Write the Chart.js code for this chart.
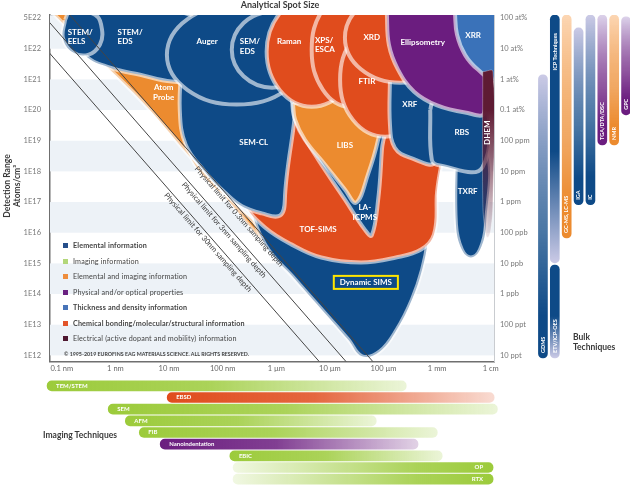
<!DOCTYPE html>
<html>
<head>
<meta charset="utf-8">
<script src="https://cdn.jsdelivr.net/npm/chart.js@4.4.0/dist/chart.umd.min.js"></script>
<style>
  body { margin: 0; width: 630px; height: 485px; overflow: hidden; position: relative; background: #fff; font-family: Lato, "Open Sans", sans-serif; }
  canvas { position: absolute; }
  .t { position: absolute; white-space: nowrap; color: #3a3a3a; }
  .leg { position: absolute; font-size: 7.2px; letter-spacing: 0.15px; color: #444; white-space: nowrap; line-height: 8px; }
  .leg i { display: inline-block; width: 5px; height: 5px; margin-right: 5px; vertical-align: 0px; }
</style>
</head>
<body>
<canvas id="main" width="545" height="375" style="left:0;top:0;width:545px;height:375px"></canvas>
<canvas id="bulk" width="95" height="362" style="left:537px;top:0;width:95px;height:362px"></canvas>
<canvas id="imaging" width="453" height="105" style="left:46px;top:380px;width:453px;height:105px"></canvas>

<div class="t" style="left:180px;top:-1px;width:200px;text-align:center;font-weight:bold;font-size:9px">Analytical Spot Size</div>
<div class="t" style="left:-38px;top:176px;width:100px;height:20px;line-height:10px;text-align:center;font-weight:bold;font-size:8.5px;transform:rotate(-90deg)">Detection Range<br>Atoms/cm³</div>
<div class="t" style="left:573px;top:332px;font-weight:bold;font-size:8.5px;line-height:10px">Bulk<br>Techniques</div>
<div class="t" style="left:43px;top:430px;font-weight:bold;font-size:8.5px">Imaging Techniques</div>
<div id="legend"></div>

<script>
// ejes: x = log10(tamaño de spot en nm), y = log10(átomos/cm3)
var spotTickValues = [-1, 0, 1, 2, 3, 4, 5, 6, 7];
var spotTicks = ["0.1 nm", "1 nm", "10 nm", "100 nm", "1 µm", "10 µm", "100 µm", "1 mm", "1 cm"];
var rangeTickValues = [12, 13, 14, 15, 16, 17, 18, 19, 20, 21, 22, 23];
var rangeTicksLeft = ["1E12", "1E13", "1E14", "1E15", "1E16", "1E17", "1E18", "1E19", "1E20", "1E21", "1E22", "5E22"];
var rangeTicksRight = ["10 ppt", "100 ppt", "1 ppb", "10 ppb", "100 ppb", "1 ppm", "10 ppm", "100 ppm", "0.1 at%", "1 at%", "10 at%", "100 at%"];
var bands = [[12, 13], [14, 15], [16, 17], [18, 19], [20, 21], [22, 23.2]];

var infoKeys = ["elem", "img", "elemimg", "phys", "thick", "chem", "elec"];
var infoLabels = ["Elemental information", "Imaging information", "Elemental and imaging information",
  "Physical and/or optical properties", "Thickness and density information",
  "Chemical bonding/molecular/structural information", "Electrical (active dopant and mobility) information"];

// tecnicas, de abajo hacia arriba (orden de dibujo)
var techNames = ["Atom Probe", "Dynamic SIMS", "TOF-SIMS", "SEM-CL", "LA-ICPMS", "LIBS", "TXRF", "STEM/EDS", "STEM/EELS",
  "Auger", "SEM/EDS", "Raman", "XPS/ESCA", "FTIR", "XRF", "RBS", "XRD", "Ellipsometry", "XRR", "DHEM"];
var techKinds = ["elemimg", "elem", "chem", "elem", "elem", "elemimg", "elem", "elem", "elem",
  "elem", "elem", "chem", "chem", "chem", "elem", "elem", "chem", "phys", "thick", "elec"];
var techOutlines = [
  [[-1.19,23.2],[1.85,23.2],[1.85,21.64],[1.39,21.15],[1.28,20.01],[1.35,18.71],[1.67,17.8],[2.23,16.92],[2.73,16.1],[2.88,15.68],[2.73,15.78],[2.06,17.15],[1.31,18.64],[0.57,20.14],[-0.29,21.64],[-1.04,22.94]],
  [[2.51,18.71],[2.51,17.08],[2.79,15.62],[3.35,14.48],[3.89,13.41],[4.34,12.52],[4.6,11.97],[4.93,12.13],[5.25,12.85],[5.53,13.82],[5.72,14.8],[5.83,15.78],[5.9,17.08],[5.9,18.71]],
  [[2.32,20.5],[5.99,20.5],[5.99,17.08],[5.94,15.94],[5.7,15.45],[5.23,15.19],[4.58,15.03],[3.84,15.19],[3.28,15.62],[2.79,16.17],[2.41,16.92],[2.28,17.73]],
  [[1.24,21.64],[1.2,20.01],[1.31,18.87],[1.67,17.99],[2.04,17.31],[2.36,16.86],[2.73,16.63],[3.07,16.56],[3.16,17.08],[3.16,21.64]],
  [[3.29,20.34],[5.03,20.34],[4.97,18.71],[4.9,17.08],[4.78,15.91],[4.65,16.1],[4.28,17.08],[3.72,18.55],[3.35,19.69]],
  [[3.31,20.24],[5.01,20.24],[4.9,19.04],[4.71,17.9],[4.49,16.98],[4.28,17.41],[3.91,18.22],[3.53,19.04],[3.35,19.69]],
  [[6.35,18.71],[6.35,16.27],[6.46,15.45],[6.63,15.19],[6.8,15.45],[6.91,16.27],[6.91,18.71]],
  [[-0.72,22.62],[-0.57,21.8],[-0.1,21.38],[0.46,21.15],[1.05,20.93],[1.57,20.99],[1.85,21.97],[1.39,23.11],[-0.29,23.2]],
  [[-0.94,22.94],[-0.98,22.36],[-0.81,21.9],[-0.51,21.8],[-0.29,22.13],[-0.25,22.62],[-0.38,23.11],[-0.85,23.2]],
  [[3.57,21.8],[3.19,20.66],[2.26,20.18],[1.34,20.66],[0.96,21.8],[1.34,22.96],[2.26,23.43],[3.19,22.96]],
  [[3.66,21.97],[3.45,21.1],[2.92,20.73],[2.39,21.1],[2.17,21.97],[2.39,22.84],[2.92,23.2],[3.45,22.84]],
  [[4.5,21.9],[4.26,20.64],[3.66,20.11],[3.07,20.64],[2.82,21.9],[3.07,23.17],[3.66,23.69],[4.26,23.17]],
  [[5.08,21.97],[4.87,20.66],[4.37,20.11],[3.87,20.66],[3.66,21.97],[3.87,23.28],[4.37,23.82],[4.87,23.28]],
  [[5.87,20.99],[5.62,19.68],[5.03,19.13],[4.43,19.68],[4.19,20.99],[4.43,22.31],[5.03,22.85],[5.62,22.31]],
  [[5.12,21.15],[5.12,19.52],[5.21,18.77],[5.49,18.45],[5.96,18.32],[5.96,21.15]],
  [[5.87,20.01],[5.9,18.38],[6.05,18.19],[6.84,18.12],[6.84,20.5],[6.15,20.5],[5.92,20.27]],
  [[6.33,22.36],[6.03,21.33],[5.31,20.89],[4.58,21.33],[4.28,22.36],[4.58,23.39],[5.31,23.82],[6.03,23.39]],
  [[5.06,23.2],[5.1,22.13],[5.27,21.32],[5.57,20.6],[6.0,20.15],[6.52,19.92],[6.88,19.92],[6.88,23.2]],
  [[6.33,23.2],[6.37,22.46],[6.52,21.8],[6.76,21.32],[7.08,20.99],[7.08,23.2]],
  [[6.85,21.25],[6.85,17.08],[6.89,16.1],[6.94,15.84],[7.0,16.1],[7.04,17.08],[7.04,21.25]]
];
var techLabelLines = [["Atom", "Probe"], ["Dynamic SIMS"], ["TOF-SIMS"], ["SEM-CL"], ["LA-", "ICPMS"], ["LIBS"], ["TXRF"],
  ["STEM/", "EDS"], ["STEM/", "EELS"], ["Auger"], ["SEM/", "EDS"], ["Raman"], ["XPS/", "ESCA"], ["FTIR"], ["XRF"], ["RBS"],
  ["XRD"], ["Ellipsometry"], ["XRR"], ["DHEM"]];
var techLabelAt = [[0.9,20.57],[4.67,14.38],[3.78,16.1],[2.58,18.94],[4.65,16.66],[4.28,18.84],[6.57,17.34],
  [0.04,22.39],[-0.89,22.39],[1.71,22.23],[2.32,22.07],[3.24,22.23],[3.72,22.13],[4.69,20.93],[5.49,20.18],[6.46,19.26],
  [4.78,22.36],[5.73,22.2],[6.67,22.42],[6.93,19.26]];

// limites fisicos (profundidad de muestreo)
var limitNames = ["Physical limit for 0.3nm sampling depth", "Physical limit for 3nm sampling depth", "Physical limit for 30nm sampling depth"];
var limitLines = [[[-1.3, 24.0], [5.0, 11.4]], [[-1.3, 23.0], [4.5, 11.4]], [[-1.3, 22.0], [4.0, 11.4]]];
var limitLabelAt = [[2.38, 16.64], [2.10, 16.2], [1.80, 15.8]];

// tecnicas de imagen
var imagingNames = ["TEM/STEM", "EBSD", "SEM", "AFM", "FIB", "Nanoindentation", "EBIC", "OP", "RTX"];
var imagingRanges = [[-1.28,5.42],[0.96,7.06],[-0.14,7.12],[0.18,4.86],[0.44,6.0],[0.83,5.64],[2.13,6.09],[2.19,7.04],[2.19,7.04]];
var imagingKinds = ["img", "chem", "img", "img", "img", "phys", "img", "img", "img"];

// tecnicas bulk (columna, rango en log10 atomos/cm3)
var bulkColumns = ["1", "2", "3", "4", "5", "6", "7", "8"];
var bulkNames = ["GDMS", "ICP Techniques", "ETV/ICP-OES", "GC-MS, LC-MS", "IGA", "IC", "TGA/DTA/DSC", "NMR", "GPC"];
var bulkColumn = [0, 1, 1, 2, 3, 4, 5, 6, 7];
var bulkRanges = [[11.93,21.15],[15.03,23.1],[11.93,14.96],[15.84,23.1],[16.92,22.68],[16.92,23.1],[18.87,23.1],[18.87,23.1],[19.85,23.04]];
var bulkKinds = ["elem", "elem", "elem", "elemimg", "elem", "elem", "phys", "elemimg", "phys"];

// ---- estilos ----
var kindColor = { elem: "#0e4a87", img: "#9ccb3b", elemimg: "#ec8b2f", phys: "#6b1d7f", thick: "#3a72b9", chem: "#e04c1d", elec: "#5e1b33" };
var kindPale = { elem: "#cbcae6", elemimg: "#fcd6b3", phys: "#dcd2ea" };
var legendColor = { elem: "#264f8b", img: "#b3d77a", elemimg: "#ee8d3d", phys: "#6a2181", thick: "#4874b8", chem: "#e2542a", elec: "#4e1730" };
var legendBold = [true, false, false, false, true, true, false];
var bulkDarkTop = [false, true, true, false, false, false, false, false, false];

// leyenda en html
var legend = document.getElementById("legend");
infoKeys.forEach(function (k, i) {
  var d = document.createElement("div");
  d.className = "leg";
  d.style.left = "63px";
  d.style.top = (242 + i * 15.5) + "px";
  d.style.fontWeight = legendBold[i] ? "bold" : "normal";
  d.innerHTML = '<i style="background:' + legendColor[k] + '"></i>' + infoLabels[i];
  legend.appendChild(d);
});
var copy = document.createElement("div");
copy.className = "leg";
copy.style.left = "64px"; copy.style.top = "350px"; copy.style.fontSize = "5.3px"; copy.style.fontWeight = "bold"; copy.style.letterSpacing = "0px";
copy.textContent = "© 1995-2019 EUROFINS EAG MATERIALS SCIENCE. ALL RIGHTS RESERVED.";
legend.appendChild(copy);

function shade(hex, a) {
  var n = parseInt(hex.slice(1), 16);
  return "rgba(" + (n >> 16) + "," + ((n >> 8) & 255) + "," + (n & 255) + "," + a + ")";
}

var bandsPlugin = {
  id: "bandas",
  beforeDatasetsDraw: function (chart) {
    var c = chart.ctx, a = chart.chartArea, ys = chart.scales.y;
    c.save();
    c.fillStyle = "#edf2f7";
    bands.forEach(function (b) {
      var y0 = Math.max(ys.getPixelForValue(b[1]), a.top), y1 = Math.min(ys.getPixelForValue(b[0]), a.bottom);
      c.fillRect(a.left, y0, a.right - a.left, y1 - y0);
    });
    c.strokeStyle = "#cfd3d8";
    c.lineWidth = 1;
    c.beginPath(); c.moveTo(a.left, a.top + 0.5); c.lineTo(a.right, a.top + 0.5); c.stroke();
    c.restore();
  }
};

var textPlugin = {
  id: "textos",
  afterDatasetsDraw: function (chart) {
    var c = chart.ctx, xs = chart.scales.x, ys = chart.scales.y;
    c.save();
    // textos de los limites
    c.fillStyle = "#3b3b3b";
    c.font = "7.6px Lato, sans-serif";
    c.textAlign = "center";
    c.textBaseline = "top";
    limitLines.forEach(function (ln, i) {
      var x0 = xs.getPixelForValue(ln[0][0]), y0 = ys.getPixelForValue(ln[0][1]);
      var x1 = xs.getPixelForValue(ln[1][0]), y1 = ys.getPixelForValue(ln[1][1]);
      var ang = Math.atan2(y1 - y0, x1 - x0);
      c.save();
      c.translate(xs.getPixelForValue(limitLabelAt[i][0]), ys.getPixelForValue(limitLabelAt[i][1]));
      c.rotate(ang);
      c.fillText(limitNames[i], 0, 1.5);
      c.restore();
    });
    // nombres de tecnicas
    c.fillStyle = "#fff";
    c.font = "bold 8px Lato, sans-serif";
    c.textBaseline = "middle";
    techNames.forEach(function (name, i) {
      var lines = techLabelLines[i];
      var px = xs.getPixelForValue(techLabelAt[i][0]), py = ys.getPixelForValue(techLabelAt[i][1]);
      var left = lines.length > 1 && lines[0].slice(-1) === "/";
      c.textAlign = left ? "left" : "center";
      if (name === "DHEM") {
        c.save(); c.translate(px, py); c.rotate(-Math.PI / 2); c.textAlign = "center";
        c.fillText(lines[0], 0, 0); c.restore();
        return;
      }
      lines.forEach(function (t, k) {
        c.fillText(t, px, py + (k - (lines.length - 1) / 2) * 9.5);
      });
      if (name === "Dynamic SIMS") {
        var w = c.measureText(lines[0]).width;
        c.strokeStyle = "#ffe600"; c.lineWidth = 2;
        c.strokeRect(px - w / 2 - 6, py - 6.5, w + 12, 13);
      }
    });
    c.restore();
  }
};

var mainSets = techNames.map(function (name, i) {
  var pts = techOutlines[i].map(function (p) { return { x: p[0], y: p[1] }; });
  pts.push(pts[0]);
  var col = kindColor[techKinds[i]];
  return {
    label: name,
    data: pts,
    fill: "shape",
    backgroundColor: name === "DHEM" ? function (ctx) {
      var ch = ctx.chart, ys = ch.scales.y;
      if (!ch.chartArea) return col;
      var g = ch.ctx.createLinearGradient(0, ys.getPixelForValue(20), 0, ys.getPixelForValue(15.84));
      g.addColorStop(0, col); g.addColorStop(1, "rgba(94,27,51,0.1)");
      return g;
    } : col,
    borderColor: name === "DHEM" ? "rgba(255,255,255,0.3)" : "rgba(255,255,255,0.6)",
    borderWidth: name === "DHEM" ? 1 : 4,
    pointRadius: 0,
    tension: 0.4,
    capBezierPoints: false,
    order: -i
  };
});
limitLines.forEach(function (ln, i) {
  mainSets.push({
    label: limitNames[i],
    data: ln.map(function (p) { return { x: p[0], y: p[1] }; }),
    fill: false,
    borderColor: "#454545",
    borderWidth: 1,
    pointRadius: 0,
    tension: 0,
    order: -100
  });
});

var tickFont = { family: "Lato, sans-serif", size: 7.5 };
new Chart(document.getElementById("main"), {
  type: "line",
  data: { datasets: mainSets },
  options: {
    responsive: false,
    animation: false,
    events: [],
    layout: { padding: { top: 15 } },
    plugins: { legend: { display: false }, tooltip: { enabled: false } },
    scales: {
      x: {
        type: "linear", min: -1.22, max: 7.06, position: "bottom",
        afterBuildTicks: function (s) { s.ticks = spotTickValues.map(function (v) { return { value: v }; }); },
        afterFit: function (s) { s.height = 13; },
        ticks: { callback: function (v, i) { return spotTicks[i]; }, padding: 3, maxRotation: 0, autoSkip: false, font: tickFont, color: "#666" },
        grid: { display: false, drawTicks: false },
        border: { display: true, color: "#6f6f6f", width: 1.5 }
      },
      y: {
        type: "linear", min: 11.8, max: 23.1, position: "left",
        afterBuildTicks: function (s) { s.ticks = rangeTickValues.map(function (v) { return { value: v }; }); },
        afterFit: function (s) { s.width = 50; },
        ticks: { callback: function (v, i) { return rangeTicksLeft[i]; }, padding: 9, autoSkip: false, font: tickFont, color: "#777" },
        grid: { display: false, drawTicks: false },
        border: { display: true, color: "#6f6f6f", width: 1.5 }
      },
      y2: {
        type: "linear", min: 11.8, max: 23.1, position: "right",
        afterBuildTicks: function (s) { s.ticks = rangeTickValues.map(function (v) { return { value: v }; }); },
        afterFit: function (s) { s.width = 51; },
        ticks: { callback: function (v, i) { return rangeTicksRight[i]; }, padding: 6, autoSkip: false, font: tickFont, color: "#777" },
        grid: { display: false, drawTicks: false },
        border: { display: true, color: "#c9ccd0", width: 1 }
      }
    }
  },
  plugins: [bandsPlugin, textPlugin]
});

// ---- tecnicas bulk ----
var bulkSets = bulkNames.map(function (name, i) {
  var data = bulkColumns.map(function () { return null; });
  data[bulkColumn[i]] = bulkRanges[i];
  var col = kindColor[bulkKinds[i]], pale = kindPale[bulkKinds[i]];
  return {
    label: name,
    data: data,
    backgroundColor: function (ctx) {
      var ch = ctx.chart, ys = ch.scales.y;
      if (!ch.chartArea) return col;
      var g = ch.ctx.createLinearGradient(0, ys.getPixelForValue(bulkRanges[i][1]), 0, ys.getPixelForValue(bulkRanges[i][0]));
      if (bulkDarkTop[i]) { g.addColorStop(0, col); g.addColorStop(0.55, col); g.addColorStop(1, pale); }
      else { g.addColorStop(0, pale); g.addColorStop(0.55, shade(col, 0.75)); g.addColorStop(0.85, col); g.addColorStop(1, col); }
      return g;
    },
    borderSkipped: false,
    borderRadius: 6,
    barThickness: 9,
    grouped: false
  };
});
var bulkTextPlugin = {
  id: "bulkTextos",
  afterDatasetsDraw: function (chart) {
    var c = chart.ctx;
    c.save();
    c.fillStyle = "#fff";
    c.font = "bold 5.5px Lato, sans-serif";
    c.textBaseline = "middle";
    bulkNames.forEach(function (name, i) {
      var el = chart.getDatasetMeta(i).data[bulkColumn[i]];
      c.save();
      if (name === "ICP Techniques") {
        c.translate(el.x, el.y + 18); c.rotate(-Math.PI / 2); c.textAlign = "right";
      } else {
        c.translate(el.x, el.base - 5); c.rotate(-Math.PI / 2); c.textAlign = "left";
      }
      c.fillText(name, 0, 0);
      c.restore();
    });
    c.restore();
  }
};
new Chart(document.getElementById("bulk"), {
  type: "bar",
  data: { labels: bulkColumns, datasets: bulkSets },
  options: {
    responsive: false, animation: false, events: [],
    layout: { padding: { top: 15 } },
    plugins: { legend: { display: false }, tooltip: { enabled: false } },
    scales: { x: { display: false }, y: { display: false, min: 11.8, max: 23.1 } }
  },
  plugins: [bulkTextPlugin]
});

// ---- tecnicas de imagen ----
var imagingTextPlugin = {
  id: "imgTextos",
  afterDatasetsDraw: function (chart) {
    var c = chart.ctx, meta = chart.getDatasetMeta(0);
    c.save();
    c.fillStyle = "#fff";
    c.font = "bold 6px Lato, sans-serif";
    c.textBaseline = "middle";
    imagingNames.forEach(function (name, i) {
      var el = meta.data[i];
      if (name === "OP" || name === "RTX") { c.textAlign = "right"; c.fillText(name, el.x - 10, el.y); }
      else { c.textAlign = "left"; c.fillText(name, el.base + 9, el.y); }
    });
    c.restore();
  }
};
new Chart(document.getElementById("imaging"), {
  type: "bar",
  data: {
    labels: imagingNames,
    datasets: [{
      data: imagingRanges,
      backgroundColor: function (ctx) {
        var ch = ctx.chart, xs = ch.scales.x, r = ctx.raw;
        var col = kindColor[imagingKinds[ctx.dataIndex]];
        if (!ch.chartArea || !r) return col;
        var g = ch.ctx.createLinearGradient(xs.getPixelForValue(r[0]), 0, xs.getPixelForValue(r[1]), 0);
        var name = imagingNames[ctx.dataIndex];
        if (name === "OP" || name === "RTX") {
          g.addColorStop(0, shade(col, 0.15)); g.addColorStop(0.7, shade(col, 0.85)); g.addColorStop(1, col);
        } else {
          g.addColorStop(0, col); g.addColorStop(0.45, shade(col, 0.85)); g.addColorStop(1, shade(col, 0.2));
        }
        return g;
      },
      borderSkipped: false,
      borderRadius: 5,
      barThickness: 10
    }]
  },
  options: {
    indexAxis: "y",
    responsive: false, animation: false, events: [],
    plugins: { legend: { display: false }, tooltip: { enabled: false } },
    scales: { x: { type: "linear", min: -1.3, max: 7.15, display: false }, y: { display: false } }
  },
  plugins: [imagingTextPlugin]
});
</script>
</body>
</html>
